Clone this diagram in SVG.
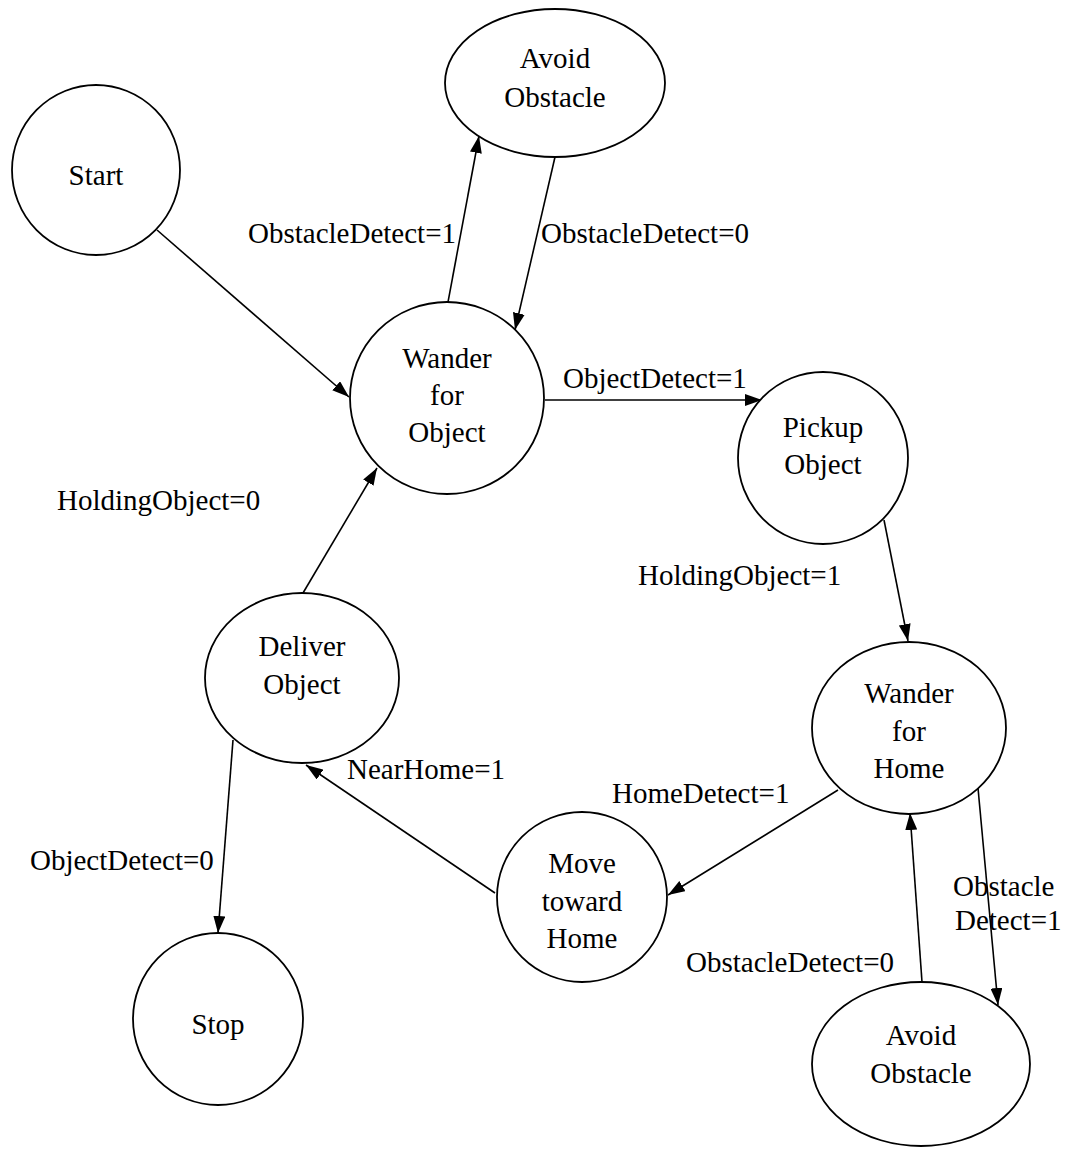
<svg xmlns="http://www.w3.org/2000/svg" width="1070" height="1150" viewBox="0 0 1070 1150">
<style>
.n{fill:#fff;stroke:#000;stroke-width:1.8}
.t{font-family:"Liberation Serif","Times New Roman",serif;font-size:29px;fill:#000}
.c{text-anchor:middle}
.e{stroke:#000;stroke-width:1.6;fill:none;marker-end:url(#ah)}
</style>
<defs>
<marker id="ah" markerUnits="userSpaceOnUse" markerWidth="18" markerHeight="12" refX="17" refY="6" orient="auto">
<path d="M0,0 L17,6 L0,12 z" fill="#000"/>
</marker>
</defs>
<rect width="1070" height="1150" fill="#fff"/>
<g id="edges">
<line class="e" x1="157" y1="230" x2="349" y2="397"/>
<line class="e" x1="448" y1="302" x2="479" y2="136"/>
<line class="e" x1="555" y1="157" x2="515" y2="330"/>
<line class="e" x1="545" y1="400" x2="762" y2="400"/>
<line class="e" x1="884" y1="520" x2="908" y2="641"/>
<line class="e" x1="838" y1="790" x2="668" y2="895"/>
<line class="e" x1="495" y1="893" x2="306" y2="765"/>
<line class="e" x1="303" y1="593" x2="377" y2="468"/>
<line class="e" x1="233" y1="740" x2="218" y2="933"/>
<line class="e" x1="922" y1="982" x2="910" y2="813"/>
<line class="e" x1="978" y1="788" x2="998" y2="1005"/>
</g>
<g id="labels" class="t">
<text x="248" y="243">ObstacleDetect=1</text>
<text x="541" y="243">ObstacleDetect=0</text>
<text x="563" y="388">ObjectDetect=1</text>
<text x="57" y="510">HoldingObject=0</text>
<text x="638" y="585">HoldingObject=1</text>
<text x="347" y="779">NearHome=1</text>
<text x="612" y="803">HomeDetect=1</text>
<text x="30" y="870">ObjectDetect=0</text>
<text x="686" y="972">ObstacleDetect=0</text>
<text x="953" y="896">Obstacle</text>
<text x="955" y="930">Detect=1</text>
</g>
<g id="start"><ellipse class="n" cx="96" cy="170" rx="84" ry="85"/><text class="t c" x="96" y="185">Start</text></g>
<g id="avoid1"><ellipse class="n" cx="555" cy="83" rx="110" ry="74"/><text class="t c" x="555" y="68">Avoid</text><text class="t c" x="555" y="107">Obstacle</text></g>
<g id="wanderObj"><ellipse class="n" cx="447" cy="398" rx="97" ry="96"/><text class="t c" x="447" y="368">Wander</text><text class="t c" x="447" y="405">for</text><text class="t c" x="447" y="442">Object</text></g>
<g id="pickup"><ellipse class="n" cx="823" cy="458" rx="85" ry="86"/><text class="t c" x="823" y="437">Pickup</text><text class="t c" x="823" y="474">Object</text></g>
<g id="deliver"><ellipse class="n" cx="302" cy="678" rx="97" ry="85"/><text class="t c" x="302" y="656">Deliver</text><text class="t c" x="302" y="694">Object</text></g>
<g id="wanderHome"><ellipse class="n" cx="909" cy="728" rx="97" ry="86"/><text class="t c" x="909" y="703">Wander</text><text class="t c" x="909" y="741">for</text><text class="t c" x="909" y="778">Home</text></g>
<g id="move"><ellipse class="n" cx="582" cy="897" rx="85" ry="85"/><text class="t c" x="582" y="873">Move</text><text class="t c" x="582" y="911">toward</text><text class="t c" x="582" y="948">Home</text></g>
<g id="stop"><ellipse class="n" cx="218" cy="1019" rx="85" ry="86"/><text class="t c" x="218" y="1034">Stop</text></g>
<g id="avoid2"><ellipse class="n" cx="921" cy="1064" rx="109" ry="82"/><text class="t c" x="921" y="1045">Avoid</text><text class="t c" x="921" y="1083">Obstacle</text></g>
</svg>
